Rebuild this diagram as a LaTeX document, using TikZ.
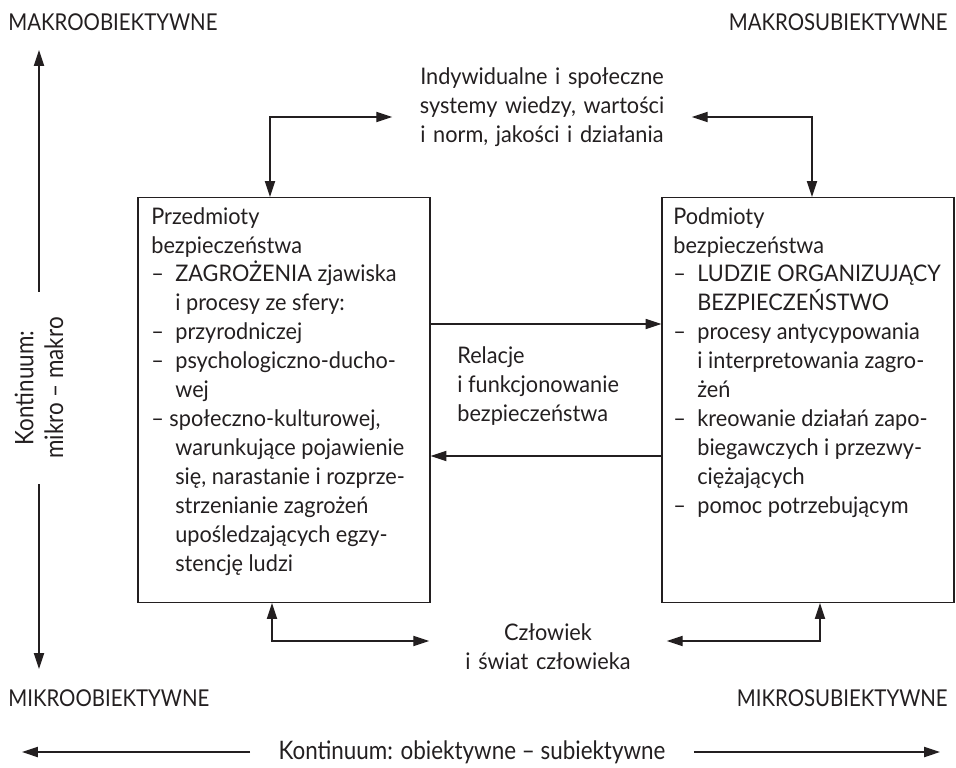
\documentclass[tikz,border=0pt]{standalone}
\usepackage{fontspec}
\setmainfont[FakeStretch=0.95]{Lato}
\newfontfamily\narrowfont[FakeStretch=0.88]{Lato}
\usetikzlibrary{arrows.meta,positioning,calc}
\definecolor{inkgray}{HTML}{231F20}

\newcommand{\pkt}{\makebox[0.48cm][l]{–}}
\newcommand{\wc}{\hspace*{0.48cm}}

\begin{document}
\begin{tikzpicture}[x=0.02cm, y=-0.02cm,
  box/.style={draw=inkgray, line width=0.75pt, minimum width=5.84cm, minimum height=8.1cm, inner sep=0pt},
  boxtext/.style={anchor=north west, align=left, inner sep=0pt, font=\fontsize{13}{16.45}\selectfont, text=inkgray},
  plain/.style={inner sep=0pt, font=\fontsize{13}{16.45}\selectfont, text=inkgray},
  corner/.style={inner sep=0pt, font=\narrowfont\fontsize{13.2}{15}\selectfont, text=inkgray},
  axislabel/.style={inner xsep=0.56cm, inner ysep=0pt, font=\narrowfont\fontsize{14.5}{17}\selectfont, text=inkgray},
  arr/.style={-{Triangle[length=9pt,width=5.8pt]}, line width=0.7pt, draw=inkgray},
  dbl/.style={{Triangle[length=9pt,width=5.8pt]}-{Triangle[length=9pt,width=5.8pt]}, line width=0.7pt, draw=inkgray}
]
  \useasboundingbox (0,0) rectangle (956,767);

  % corners
  \node[corner, anchor=west] (makroob) at (8,22) {MAKROOBIEKTYWNE};
  \node[corner, anchor=east] (makrosub) at (948,22) {MAKROSUBIEKTYWNE};
  \node[corner, anchor=west] (mikroob) at (8,698) {MIKROOBIEKTYWNE};
  \node[corner, anchor=east] (mikrosub) at (948,698) {MIKROSUBIEKTYWNE};

  % boxes
  \node[box] (przedmioty) at (284,400) {};
  \node[box] (podmioty) at (808,400) {};
  \node[boxtext] (przedmiotytxt) at (151,207) {Przedmioty\\ bezpieczeństwa\\
    \pkt ZAGROŻENIA zjawiska\\ \wc i procesy ze sfery:\\ \pkt przyrodniczej\\
    \pkt psychologiczno-ducho-\\ \wc wej\\ – społeczno-kulturowej,\\
    \wc warunkujące pojawienie\\ \wc się, narastanie i rozprze-\\
    \wc strzenianie zagrożeń\\ \wc upośledzających egzy-\\ \wc stencję ludzi};
  \node[boxtext] (podmiotytxt) at (673,207) {Podmioty\\ bezpieczeństwa\\
    \pkt LUDZIE ORGANIZUJĄCY\\ \wc BEZPIECZEŃSTWO\\ \pkt procesy antycypowania\\
    \wc i interpretowania zagro-\\ \wc żeń\\ \pkt kreowanie działań zapo-\\
    \wc biegawczych i przezwy-\\ \wc ciężających\\ \pkt pomoc potrzebującym};

  % texts between boxes
  \node[plain, text width=5.98cm, align=center] (wiedza) at (542,107) {Indywidualne i społeczne\\ systemy wiedzy, wartości\\ i norm, jakości i działania};
  \node[plain, anchor=west, align=left] (relacje) at (457,386) {Relacje\\ i funkcjonowanie\\ bezpieczeństwa};
  \node[plain, text width=4.74cm, align=center] (czlowiek) at (548,647) {Człowiek\\ i świat człowieka};

  \draw[dbl] ([xshift=-0.28cm]przedmioty.north) |- ([yshift=-0.2cm]wiedza.west);
  \draw[dbl] ([yshift=-0.2cm]wiedza.east) -| ([xshift=0.08cm]podmioty.north);
  \draw[arr] ([yshift=1.52cm]przedmioty.east) -- ([yshift=1.52cm]podmioty.west);
  \draw[arr] ([yshift=-1.12cm]podmioty.west) -- ([yshift=-1.12cm]przedmioty.east);
  \draw[dbl] ([xshift=-0.24cm]przedmioty.south) |- ([yshift=0.12cm]czlowiek.west);
  \draw[dbl] ([yshift=0.12cm]czlowiek.east) -| ([xshift=0.24cm]podmioty.south);

  % axes
  \node[axislabel, rotate=90, align=center, inner xsep=0.5cm] (kontv) at (39,388) {Kontinuum:\\ mikro – makro};
  \coordinate (vtop) at (39,50);
  \coordinate (vbot) at (39,669);
  \draw[arr] (kontv.east) -- (vtop);
  \draw[arr] (kontv.west) -- (vbot);

  \node[axislabel] (konth) at (472,752) {Kontinuum: obiektywne – subiektywne};
  \coordinate (hleft) at (22,752);
  \coordinate (hright) at (940,752);
  \draw[arr] (konth.west) -- (hleft);
  \draw[arr] (konth.east) -- (hright);
\end{tikzpicture}
\end{document}
